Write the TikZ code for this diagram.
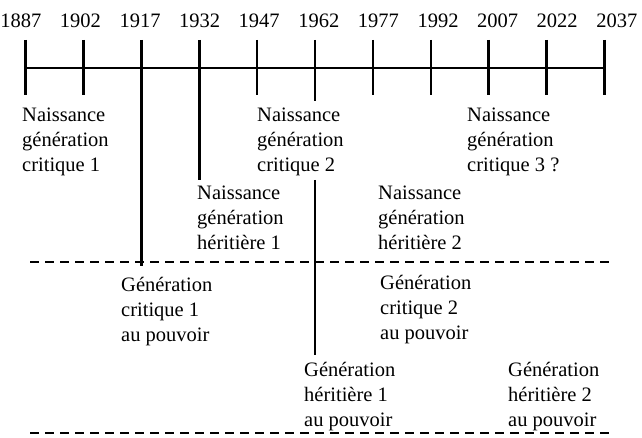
\documentclass[tikz,border=0pt]{standalone}
\usepackage{fontspec}
\setmainfont{Liberation Serif}
\begin{document}
\begin{tikzpicture}[x=1pt,y=-1pt,
  txt/.style={anchor=base west,inner sep=0pt,font=\fontsize{20.5}{25}\selectfont},
  yr/.style={anchor=base,inner sep=0pt,font=\fontsize{20.5}{25}\selectfont},
  axis/.style={line width=2.6pt},
  tick/.style={line width=2.6pt},
  sep/.style={line width=2.2pt,dash pattern=on 9pt off 6pt}]
\useasboundingbox (0,0) rectangle (642,438);
% year labels
\foreach \y [count=\i from 0] in {1887,1902,1917,1932,1947,1962,1977,1992,2007,2022,2037}{
  \node[yr] (y\y) at ({20.8+59.6*\i},28) {\y};
  \coordinate (tt\y) at ({25.5+57.9*\i},40);
  \coordinate (tb\y) at ({25.5+57.9*\i},95);
}
% axis
\draw[axis] (tt1887|-0,68) coordinate (a0) -- (tt2037|-0,68) coordinate (a1);
% short ticks
\foreach \y in {1887,1902,1947,1977,1992,2007,2022,2037}{
  \draw[tick] (tt\y) -- (tb\y);
}
% long ticks
\coordinate (l1917) at (tt1917|-0,266);
\coordinate (l1932) at (tt1932|-0,180);
\coordinate (l1962a) at (tt1962|-0,101);
\coordinate (l1962b) at (tt1962|-0,180);
\coordinate (l1962c) at (tt1962|-0,355);
\draw[tick] (tt1917) -- (l1917);
\draw[tick] (tt1932) -- (l1932);
\draw[tick] (tt1962) -- (l1962a);
\draw[tick] (l1962b) -- (l1962c);
% dashed separators
\coordinate (d1a) at (30,262);
\coordinate (d1b) at (614,262);
\coordinate (d2a) at (30,433);
\coordinate (d2b) at (614,433);
\draw[sep] (d1a) -- (d1b);
\draw[sep] (d2a) -- (d2b);
% texts
\node[txt] (nc1) at (22,122) {\begin{tabular}[t]{@{}l@{}}Naissance\\génération\\critique 1\end{tabular}};
\node[txt] (nc2) at (257,122) {\begin{tabular}[t]{@{}l@{}}Naissance\\génération\\critique 2\end{tabular}};
\node[txt] (nc3) at (467,122) {\begin{tabular}[t]{@{}l@{}}Naissance\\génération\\critique 3 ?\end{tabular}};
\node[txt] (nh1) at (197,200) {\begin{tabular}[t]{@{}l@{}}Naissance\\génération\\héritière 1\end{tabular}};
\node[txt] (nh2) at (378,200) {\begin{tabular}[t]{@{}l@{}}Naissance\\génération\\héritière 2\end{tabular}};
\node[txt] (gc1) at (121,291) {\begin{tabular}[t]{@{}l@{}}Génération\\critique 1\\au pouvoir\end{tabular}};
\node[txt] (gc2) at (380,289) {\begin{tabular}[t]{@{}l@{}}Génération\\critique 2\\au pouvoir\end{tabular}};
\node[txt] (gh1) at (304,376) {\begin{tabular}[t]{@{}l@{}}Génération\\héritière 1\\au pouvoir\end{tabular}};
\node[txt] (gh2) at (508,376) {\begin{tabular}[t]{@{}l@{}}Génération\\héritière 2\\au pouvoir\end{tabular}};
\end{tikzpicture}
\end{document}
